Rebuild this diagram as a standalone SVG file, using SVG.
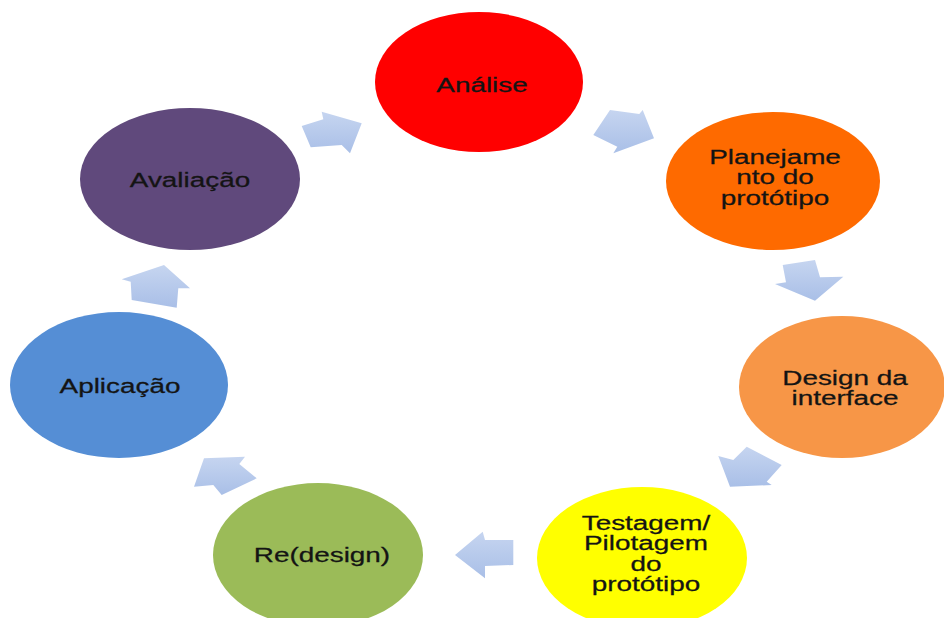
<svg xmlns="http://www.w3.org/2000/svg" width="944" height="618" viewBox="0 0 944 618">
  <defs>
    <linearGradient id="arrowFill" x1="0" y1="0" x2="0" y2="1">
      <stop offset="0" stop-color="#c6d5f0"/>
      <stop offset="1" stop-color="#a9bfe7"/>
    </linearGradient>
    <filter id="soft" x="-10%" y="-10%" width="120%" height="120%">
      <feGaussianBlur stdDeviation="0.6"/>
    </filter>
  </defs>
  <style>
    .node ellipse { filter: url(#soft); }
    .label { font-family: "Liberation Sans", Arial, sans-serif; font-size: 19.5px; fill: #141414; text-anchor: middle; stroke: #141414; stroke-width: 0.25; }
    .arrow { fill: url(#arrowFill); stroke: none; }
  </style>
  <rect width="944" height="618" fill="#ffffff"/>

  <!-- cycle arrows between stages -->
  <g id="connectors">
    <polygon class="arrow" points="301.7,126 323.3,119.3 321.7,111.7 361.7,123.3 350,153.3 341.7,145 310.7,147.3"/>
    <polygon class="arrow" points="610,110 639.3,114 642.7,110 654,138.3 613.3,153.3 617.3,146.7 593.3,135"/>
    <polygon class="arrow" points="782.7,265 815,260 820,277.3 843.3,276.7 815,300.7 775,284 786,282.3"/>
    <polygon class="arrow" points="718.3,456 733.3,460 746.7,446.7 781.7,465 766.7,481.7 771.7,485 730,486.7"/>
    <polygon class="arrow" points="455,555 482.7,531.7 485,540 513.3,540 513.3,565 485,566 485,578.3"/>
    <polygon class="arrow" points="204,458.3 245,456.7 239.3,464 256.7,478.3 221.7,495 213.3,485 194,486.7"/>
    <polygon class="arrow" points="121.7,279.3 164,265 190,288.3 178.3,288.3 176.7,307.7 131.7,300 130.7,281.7"/>
  </g>

  <g id="analise" class="node">
    <ellipse cx="479" cy="82" rx="104" ry="70" fill="#ff0000"/>
    <text class="label" transform="translate(482,92) scale(1.43,1)" x="0" y="0">Análise</text>
  </g>

  <g id="planejamento" class="node">
    <ellipse cx="773" cy="181" rx="107" ry="69" fill="#fe6a06"/>
    <text class="label" transform="translate(775,164) scale(1.43,1)"><tspan x="0" y="0">Planejame</tspan><tspan x="0" y="20.5">nto do</tspan><tspan x="0" y="41">protótipo</tspan></text>
  </g>

  <g id="design-interface" class="node">
    <ellipse cx="842" cy="387" rx="103" ry="71" fill="#f79646"/>
    <text class="label" transform="translate(845,385) scale(1.43,1)"><tspan x="0" y="0">Design da</tspan><tspan x="0" y="20.5">interface</tspan></text>
  </g>

  <g id="testagem" class="node">
    <ellipse cx="642" cy="558" rx="105" ry="71" fill="#ffff00"/>
    <text class="label" transform="translate(646,530) scale(1.43,1)"><tspan x="0" y="0">Testagem/</tspan><tspan x="0" y="20.5">Pilotagem</tspan><tspan x="0" y="41">do</tspan><tspan x="0" y="61.5">protótipo</tspan></text>
  </g>

  <g id="redesign" class="node">
    <ellipse cx="318" cy="555" rx="105" ry="72" fill="#9bbb59"/>
    <text class="label" transform="translate(322,562) scale(1.43,1)">Re(design)</text>
  </g>

  <g id="aplicacao" class="node">
    <ellipse cx="119" cy="385" rx="109" ry="73" fill="#558ed5"/>
    <text class="label" transform="translate(120,393) scale(1.43,1)">Aplicação</text>
  </g>

  <g id="avaliacao" class="node">
    <ellipse cx="190" cy="179" rx="110" ry="71" fill="#604a7b"/>
    <text class="label" transform="translate(190,187) scale(1.43,1)">Avaliação</text>
  </g>
</svg>
